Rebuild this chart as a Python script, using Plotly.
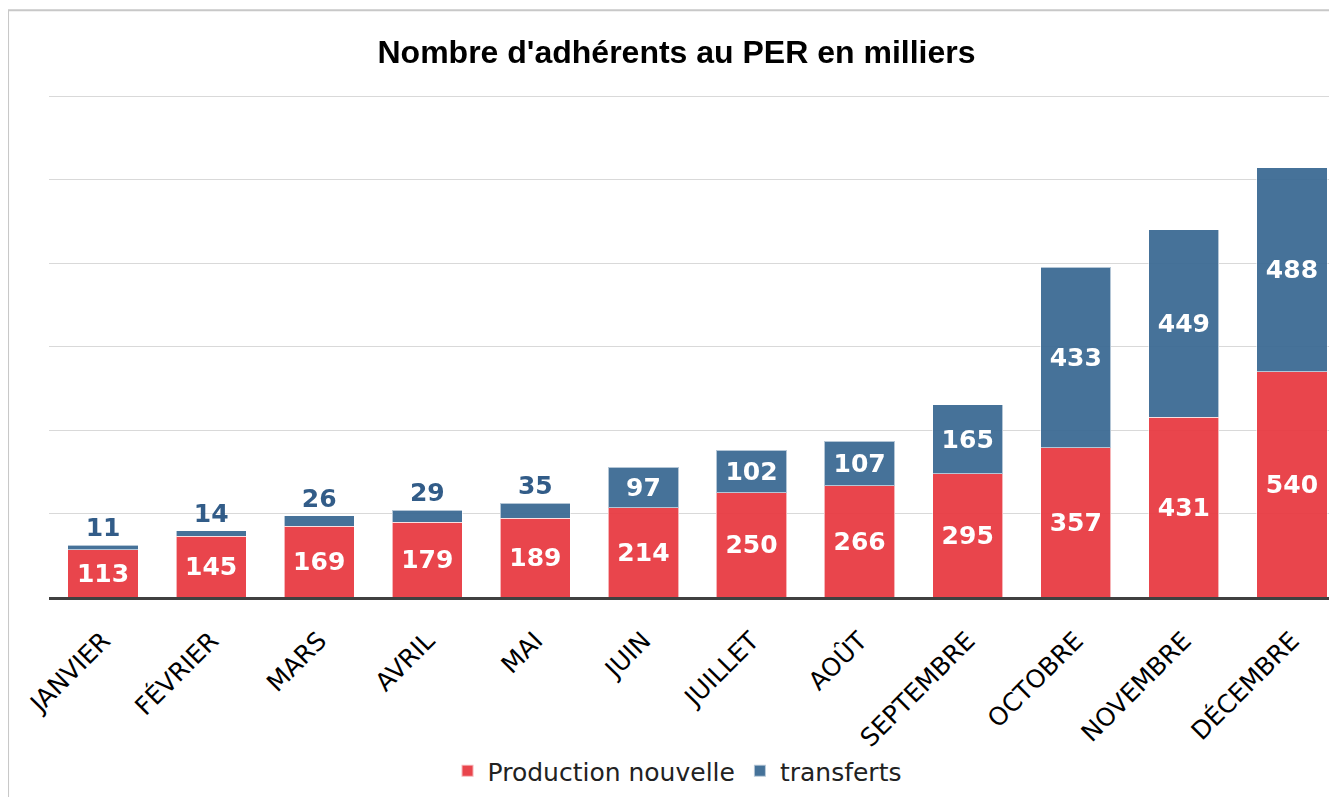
import plotly.graph_objects as go

mois = ["JANVIER", "FÉVRIER", "MARS", "AVRIL", "MAI", "JUIN", "JUILLET",
        "AOÛT", "SEPTEMBRE", "OCTOBRE", "NOVEMBRE", "DÉCEMBRE"]
production_nouvelle = [113, 145, 169, 179, 189, 214, 250, 266, 295, 357, 431, 540]
transferts = [11, 14, 26, 29, 35, 97, 102, 107, 165, 433, 449, 488]

ROUGE = "#E8373F"
BLEU = "#386892"
BLEU_TEXTE = "#23507F"
police = "DejaVu Sans"

# petits transferts : étiquette au-dessus de la barre
pos_transferts = ["outside" if v < 50 else "inside" for v in transferts]

fig = go.Figure()
fig.add_trace(go.Bar(
    x=mois, y=production_nouvelle, name="Production nouvelle",
    marker=dict(color=ROUGE, line=dict(color="rgba(255,255,255,0.6)", width=1)),
    opacity=0.93,
    text=production_nouvelle, textposition="inside", insidetextanchor="middle",
    insidetextfont=dict(color="white", size=25, family=police, weight="bold"),
    constraintext="none", cliponaxis=False,
))
fig.add_trace(go.Bar(
    x=mois, y=transferts, name="transferts",
    marker=dict(color=BLEU, line=dict(color="rgba(255,255,255,0.6)", width=1)),
    opacity=0.93,
    text=transferts, textposition=pos_transferts, insidetextanchor="middle",
    insidetextfont=dict(color="white", size=25, family=police, weight="bold"),
    outsidetextfont=dict(color=BLEU_TEXTE, size=25, family=police, weight="bold"),
    constraintext="none", cliponaxis=False,
))

# la page a une marge de 8 px : figure de 1329 x 789 pour éviter les barres de défilement
fig.update_layout(
    width=1329, height=789,
    barmode="stack", bargap=0.35,
    paper_bgcolor="white", plot_bgcolor="white",
    margin=dict(l=41, r=0, t=84, b=200),
    title=dict(text="<b>Nombre d'adhérents au PER en milliers</b>",
               x=0.503, xref="container", xanchor="center",
               yref="container", y=0.944, yanchor="middle",
               font=dict(family="Liberation Sans", size=32, color="black")),
    legend=dict(orientation="h", x=0.4876, xanchor="center",
                y=-0.3446, yanchor="middle",
                font=dict(family=police, size=25, color="#222222"),
                traceorder="normal", itemsizing="constant"),
    showlegend=True,
    font=dict(family=police),
)
fig.update_xaxes(
    range=[-0.5, 11.417], tickangle=-45, ticks="", showgrid=False,
    tickfont=dict(family=police, size=25, color="black"),
    showline=True, linecolor="#404040", linewidth=3, ticklabelstandoff=16,
)
fig.update_yaxes(
    range=[0, 1209.6], dtick=200, showticklabels=False, ticks="",
    gridcolor="#D9D9D9", gridwidth=1, zeroline=False,
)
# cadre gris du graphique
fig.add_shape(type="rect", xref="paper", yref="paper",
              x0=-0.0318, x1=1.2, y0=-0.6, y1=1.162,
              line=dict(color="#C8C8C8", width=2), layer="below")

fig.write_html("out.html")
